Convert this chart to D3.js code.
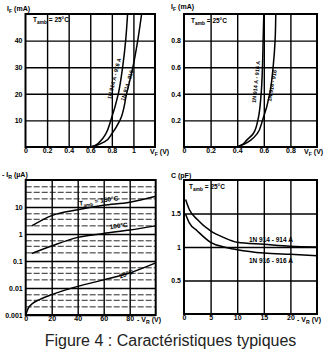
<!DOCTYPE html>
<html><head><meta charset="utf-8">
<script src="https://cdn.jsdelivr.net/npm/d3@7"></script>
<style>
body{margin:0;background:#fff;}
svg{display:block;}
text{font-family:"Liberation Sans",Arial,sans-serif;}
</style></head><body>
<svg id="c" width="328" height="350"></svg>
<script>
// ---------- DATA ----------
// Panel A : forward current I_F (mA) vs V_F (V), 0..50 mA
const ifA      = [0, 0.5, 2, 5, 10, 20, 30, 40, 50];
const vfA_left = [0.60, 0.64, 0.69, 0.745, 0.79, 0.86, 0.90, 0.928, 0.946];
const vfA_right= [0.61, 0.65, 0.735, 0.80, 0.875, 0.937, 0.995, 1.04, 1.076];
const xTicksA = [0, 0.2, 0.4, 0.6, 0.8, 1.0];
const yTicksA = [10, 20, 30, 40];
// Panel B : forward current I_F (mA) vs V_F (V), 0..1 mA
const ifB      = [0, 0.02, 0.05, 0.1, 0.2, 0.4, 0.6, 0.8, 1.0];
const vfB_left = [0.40, 0.44, 0.47, 0.52, 0.555, 0.58, 0.59, 0.595, 0.60];
const vfB_right= [0.40, 0.45, 0.50, 0.55, 0.59, 0.645, 0.67, 0.685, 0.69];
const xTicksB = [0, 0.2, 0.4, 0.6, 0.8];
const yTicksB = [0.2, 0.4, 0.6, 0.8];
// Panel C : reverse current -I_R (µA) vs -V_R (V), log scale
const vrC150 = [4.6, 20, 40, 60, 80, 100];
const irC150 = [2.0, 4.8, 7.9, 11.5, 15, 25];
const vrC100 = [4.6, 20, 40, 60, 80, 100];
const irC100 = [0.19, 0.36, 0.75, 1.05, 1.4, 2.0];
const vrC25  = [0, 2, 5, 11, 20, 40, 60, 80, 100];
const irC25  = [0.001, 0.0018, 0.0026, 0.0038, 0.0057, 0.0115, 0.02, 0.036, 0.085];
const xTicksC = [0, 20, 40, 60, 80];
const yTicksC = [0.001, 0.01, 0.1, 1, 10];
const yMinorC = [2, 3.5, 5.6];
// Panel D : capacitance C (pF) vs -V_R (V)
const vrD      = [0.3, 1, 2.5, 5, 7.5, 10, 15, 20, 25];
const cD_914   = [1.71, 1.56, 1.41, 1.24, 1.14, 1.07, 1.04, 1.01, 1.0];
const cD_916   = [1.49, 1.36, 1.24, 1.07, 1.0, 0.96, 0.91, 0.89, 0.87];
const xTicksD = [0, 5, 10, 15, 20];
const yTicksD = [0.5, 1, 1.5];

// ---------- DRAW ----------
const svg = d3.select('#c');
const FONT = '"Liberation Sans",Arial,sans-serif';

function styleAxis(sel){
  sel.select('.domain').remove();
  sel.selectAll('line').attr('stroke','#000').attr('stroke-width',1.4);
  sel.selectAll('text').attr('fill','#000').attr('font-size','7px')
     .attr('font-weight','bold').attr('font-family',FONT);
}

function panel(id,x,y,xT,yT,xFmt,yFmt){
  const [x0,x1]=x.range(), [y0,y1]=y.range();
  const g=svg.append('g');
  const xa=g.append('g').attr('transform',`translate(0,${y0})`)
    .call(d3.axisBottom(x).tickValues(xT).tickSize(-(y0-y1)).tickPadding(1).tickFormat(xFmt));
  styleAxis(xa);
  xa.selectAll('.tick').filter(d=>d===0).select('line').remove();
  const ya=g.append('g').attr('transform',`translate(${x0},0)`)
    .call(d3.axisLeft(y).tickValues(yT).tickSize(-(x1-x0)).tickPadding(3).tickFormat(yFmt));
  styleAxis(ya);
  g.append('rect').attr('x',x0).attr('y',y1).attr('width',x1-x0).attr('height',y0-y1)
    .attr('fill','none').attr('stroke','#000').attr('stroke-width',2);
  svg.append('clipPath').attr('id',id).append('rect')
    .attr('x',x0).attr('y',y1).attr('width',x1-x0).attr('height',y0-y1);
  return g;
}

function curve(g,id,xs,ys,x,y,cv){
  g.append('path').attr('clip-path',`url(#${id})`)
   .datum(xs.map((v,i)=>[v,ys[i]]))
   .attr('fill','none').attr('stroke','#000').attr('stroke-width',1.5)
   .attr('d',d3.line().x(d=>x(d[0])).y(d=>y(d[1])).curve(cv));
}

function label(g,parts,x,y,size,anchor,rot){
  const t=g.append('text').attr('x',x).attr('y',y).attr('font-size',size+'px')
    .attr('font-weight','bold').attr('font-family',FONT).attr('fill','#000')
    .attr('text-anchor',anchor||'start');
  if(rot) t.attr('transform',`rotate(${rot},${x},${y})`);
  parts.forEach(p=>{
    const s=t.append('tspan').text(p[0]);
    if(p[1]==='sub') s.attr('baseline-shift','-30%').attr('font-size',(size*0.75)+'px');
  });
  return t;
}
const fmtNum = d=>String(d);

// Panel A
const xA=d3.scaleLinear().domain([0,1.2]).range([25.5,155]);
const yA=d3.scaleLinear().domain([0,50]).range([147,14]);
const gA=panel('cA',xA,yA,xTicksA,yTicksA,fmtNum,fmtNum);
curve(gA,'cA',vfA_left,ifA,xA,yA,d3.curveMonotoneY);
curve(gA,'cA',vfA_right,ifA,xA,yA,d3.curveMonotoneY);
label(gA,[['I'],['F','sub'],[' (mA)']],7,11,7);
label(gA,[['T'],['amb','sub'],['  =  25°C']],33,22,6.5);
label(gA,[['V'],['F','sub'],[' (V)']],150,154,7);
label(gA,[['1N 914 A - 916 A']],116,79,5.5,'middle',-76);
label(gA,[['1N 914 - 916']],129,86,5.5,'middle',-73);

// Panel B
const xB=d3.scaleLinear().domain([0,1]).range([184,317]);
const yB=d3.scaleLinear().domain([0,1]).range([147,14]);
const gB=panel('cB',xB,yB,xTicksB,yTicksB,fmtNum,fmtNum);
curve(gB,'cB',vfB_left,ifB,xB,yB,d3.curveMonotoneY);
curve(gB,'cB',vfB_right,ifB,xB,yB,d3.curveMonotoneY);
label(gB,[['I'],['F','sub'],[' (mA)']],171,9,7);
label(gB,[['T'],['amb','sub'],['  =  25°C']],191,23,6.5);
label(gB,[['V'],['F','sub'],[' (V)']],304,154,7);
label(gB,[['1N 914 A - 916 A']],258,82,5.5,'middle',-84);
label(gB,[['1N 914 - 916']],274,86,5.5,'middle',-80);

// Panel C
const xC=d3.scaleLinear().domain([0,100]).range([25.7,155.7]);
const yC=d3.scaleLog().domain([0.001,100]).range([315,180]);
const gC=panel('cC',xC,yC,xTicksC,yTicksC,fmtNum,d=>String(d));
// minor log grid
const minorC=[];
yTicksC.forEach(dec=>yMinorC.forEach(m=>minorC.push(dec*m)));
gC.append('g').selectAll('line').data(minorC).join('line')
  .attr('x1',xC.range()[0]).attr('x2',xC.range()[1])
  .attr('y1',d=>yC(d)).attr('y2',d=>yC(d))
  .attr('stroke','#111').attr('stroke-width',0.9).attr('stroke-dasharray','6,2');
curve(gC,'cC',vrC150,irC150,xC,yC,d3.curveMonotoneX);
curve(gC,'cC',vrC100,irC100,xC,yC,d3.curveMonotoneX);
curve(gC,'cC',vrC25,irC25,xC,yC,d3.curveMonotoneX);
label(gC,[['- I'],['R','sub'],[' (µA)']],2,177,7);
label(gC,[['- V'],['R','sub'],[' (V)']],137,322,7);
label(gC,[['T'],['amb','sub'],[' = 150°C']],99,203,6.5,'middle',-8);
label(gC,[['100°C']],119,228,6.5,'middle',-8);
label(gC,[['25°C']],127,276,6.5,'middle',-20);

// Panel D
const xD=d3.scaleLinear().domain([0,25]).range([184,317]);
const yD=d3.scaleLinear().domain([0,2]).range([314,180]);
const gD=panel('cD',xD,yD,xTicksD,yTicksD,fmtNum,fmtNum);
curve(gD,'cD',vrD,cD_914,xD,yD,d3.curveMonotoneX);
curve(gD,'cD',vrD,cD_916,xD,yD,d3.curveMonotoneX);
label(gD,[['C (pF)']],171,178,7);
label(gD,[['T'],['amb','sub'],['  =  25°C']],189,189,6.5);
label(gD,[['- V'],['R','sub'],[' (V)']],297,322,7);
label(gD,[['1N 914 - 914 A']],249,242,6.5);
label(gD,[['1N 916 - 916 A']],249,263,6.5);

// Caption
svg.append('text').attr('x',170.5).attr('y',346).attr('text-anchor','middle')
  .attr('font-family',FONT).attr('font-size','16px').attr('fill','#222')
  .text('Figure 4 : Caractéristiques typiques');
</script>
</body></html>
